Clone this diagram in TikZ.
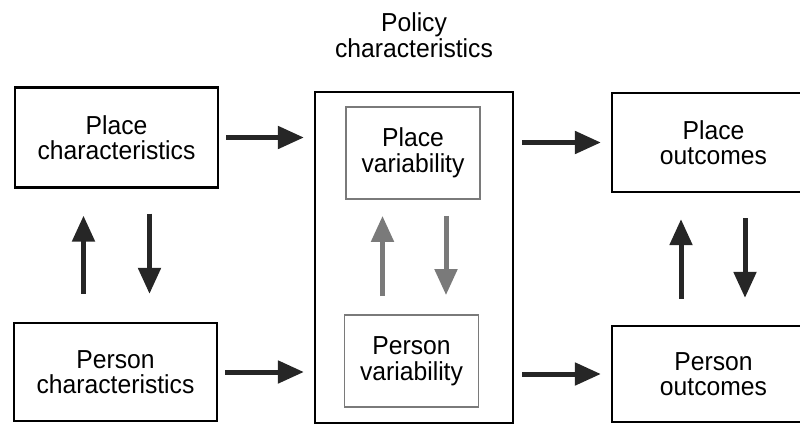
\documentclass[tikz,border=0pt]{standalone}
\usepackage{fontspec}
\setmainfont{Liberation Sans}[FakeStretch=0.95]
\usetikzlibrary{arrows.meta}
\definecolor{varline}{HTML}{7A7A7A}
\tikzset{box/.style={draw,line width=2.2pt,minimum width=203pt,minimum height=100pt,align=center,font=\fontsize{26}{25.5}\selectfont},inner/.style={box,draw=varline,line width=1.8pt,minimum width=134pt,minimum height=92pt},edge/.style={-{Triangle[length=26pt,width=22pt]},line width=5pt,draw=black!85},grayedge/.style={edge,draw=varline}}

\begin{document}
\begin{tikzpicture}[x=1pt,y=-1pt]
\clip (0,0) rectangle (800,426);
\node[box] (placechar) at (116.5,137.5) {Place\\characteristics};
\node[box,minimum height=98pt] (personchar) at (115.5,372) {Person\\characteristics};
\node[box,minimum width=198pt,minimum height=331pt,label={[font=\fontsize{26}{25.5}\selectfont,align=center,label distance=30pt]above:Policy\\characteristics}] (policy) at (414,257.5) {};
\node[inner] (placevar) at (413,153) {Place\\variability};
\node[inner] (personvar) at (411.5,361) {Person\\variability};
\node[box,minimum height=99pt] (placeout) at (713.5,142.5) {Place\\outcomes};
\node[box,minimum height=96pt] (personout) at (713.5,374) {Person\\outcomes};
\draw[edge,shorten <=7pt,shorten >=10pt] (placechar.east) -- (placechar.east -| policy.west);\draw[edge,shorten <=7pt,shorten >=10pt] (personchar.east) -- (personchar.east -| policy.west);
\draw[edge,shorten <=8pt,shorten >=10pt] (placeout.west -| policy.east) -- (placeout.west);\draw[edge,shorten <=8pt,shorten >=10pt] (personout.west -| policy.east) -- (personout.west);
\draw[edge,shorten <=28pt,shorten >=27pt] ([xshift=-32pt]personchar.north) -- ([xshift=-32pt]personchar.north |- placechar.south);\draw[edge,shorten <=25pt,shorten >=28pt] ([xshift=33pt]placechar.south) -- ([xshift=33pt]placechar.south |- personchar.north);
\draw[grayedge,shorten <=18pt,shorten >=16pt] ([xshift=-29pt]personvar.north) -- ([xshift=-29pt]personvar.north |- placevar.south);\draw[grayedge,shorten <=16pt,shorten >=19pt] ([xshift=33pt]placevar.south) -- ([xshift=33pt]placevar.south |- personvar.north);
\draw[edge,shorten <=26pt,shorten >=26pt] ([xshift=-32.5pt]personout.north) -- ([xshift=-32.5pt]personout.north |- placeout.south);\draw[edge,shorten <=25pt,shorten >=27pt] ([xshift=31.5pt]placeout.south) -- ([xshift=31.5pt]placeout.south |- personout.north);
\end{tikzpicture}
\end{document}
